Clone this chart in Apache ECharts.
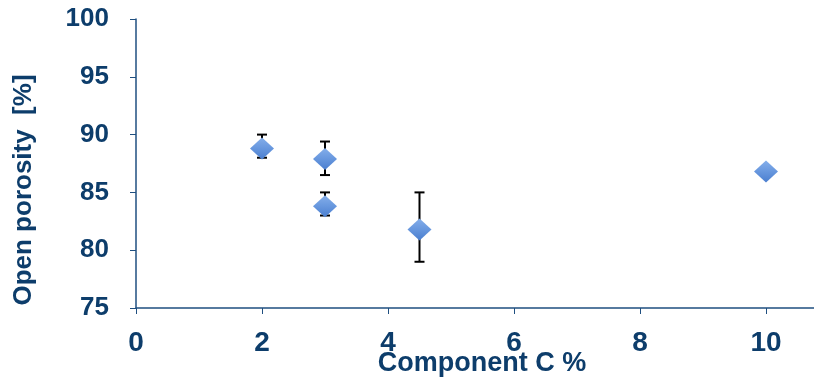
<!DOCTYPE html>
<html>
<head>
<meta charset="utf-8">
<script src="https://cdn.jsdelivr.net/npm/echarts@6/dist/echarts.min.js"></script>
<style>html,body{margin:0;padding:0;background:#fff}#c{width:814px;height:381px}</style>
</head>
<body>
<div id="c"></div>
<script>
const componentC = [2, 3, 3, 4.5, 10];
const porosity = [88.8, 87.9, 83.8, 81.8, 86.8];
const errLow = [88.0, 86.5, 83.0, 79.0, 86.8];
const errHigh = [90.0, 89.4, 85.0, 85.0, 86.8];
const xTicks = [0, 2, 4, 6, 8, 10];
const yTicks = [75, 80, 85, 90, 95, 100];
const xTitle = 'Component C %';
const yTitle = 'Open porosity  [%]';

const textColor = '#0d3d6b';
const lineColor = '#1f4f80';
const font = '"Liberation Sans", Arial, sans-serif';

const chart = echarts.init(document.getElementById('c'), null, {renderer: 'canvas'});
const points = componentC.map((x, i) => [x, porosity[i]]);
const errData = componentC.map((x, i) => [x, errLow[i], errHigh[i]]);

chart.setOption({
  animation: false,
  grid: {left: 136, top: 19, width: 693, bottom: 73, containLabel: false, outerBoundsMode: 'none'},
  xAxis: {
    type: 'value', min: 0, max: 11, interval: 2,
    axisLine: {show: true, lineStyle: {color: lineColor, width: 1.5}},
    axisTick: {show: true, length: 6, lineStyle: {color: lineColor, width: 1}},
    axisLabel: {color: textColor, fontSize: 28, fontWeight: 'bold', fontFamily: font, margin: 21,
      showMaxLabel: false, formatter: v => xTicks.includes(v) ? String(v) : ''},
    splitLine: {show: false}
  },
  yAxis: {
    type: 'value', min: 75, max: 100, interval: 5,
    axisLine: {show: true, lineStyle: {color: lineColor, width: 1.5}},
    axisTick: {show: true, length: 6, lineStyle: {color: lineColor, width: 1}},
    axisLabel: {color: textColor, fontSize: 26, fontWeight: 'bold', fontFamily: font, margin: 27,
      formatter: v => yTicks.includes(v) ? String(v) : ''},
    splitLine: {show: false}
  },
  graphic: [{
    type: 'text', x: 24, y: 190, rotation: Math.PI / 2,
    style: {text: yTitle, fill: textColor, font: 'bold 26px ' + font,
      textAlign: 'center', textVerticalAlign: 'middle'}
  }, {
    type: 'text', x: 482, y: 364,
    style: {text: xTitle, fill: textColor, font: 'bold 27px ' + font,
      textAlign: 'center', textVerticalAlign: 'middle'}
  }],
  series: [
    {
      type: 'custom', z: 2,
      data: errData,
      renderItem: function (params, api) {
        const x = api.value(0);
        const lo = api.coord([x, api.value(1)]);
        const hi = api.coord([x, api.value(2)]);
        if (Math.abs(hi[1] - lo[1]) < 1) return null;
        const hw = 5;
        const st = {stroke: '#000', lineWidth: 2};
        return {type: 'group', children: [
          {type: 'line', shape: {x1: lo[0], y1: lo[1], x2: hi[0], y2: hi[1]}, style: st},
          {type: 'line', shape: {x1: lo[0] - hw, y1: lo[1], x2: lo[0] + hw, y2: lo[1]}, style: st},
          {type: 'line', shape: {x1: hi[0] - hw, y1: hi[1], x2: hi[0] + hw, y2: hi[1]}, style: st}
        ]};
      }
    },
    {
      type: 'scatter', z: 3,
      data: points,
      symbol: 'diamond', symbolSize: [24, 22],
      itemStyle: {
        color: new echarts.graphic.LinearGradient(0, 0, 0, 1, [
          {offset: 0, color: '#84aeea'},
          {offset: 0.5, color: '#6797de'},
          {offset: 1, color: '#4a7ecf'}
        ]),
        borderWidth: 0, opacity: 1
      }
    }
  ]
});
</script>
</body>
</html>
